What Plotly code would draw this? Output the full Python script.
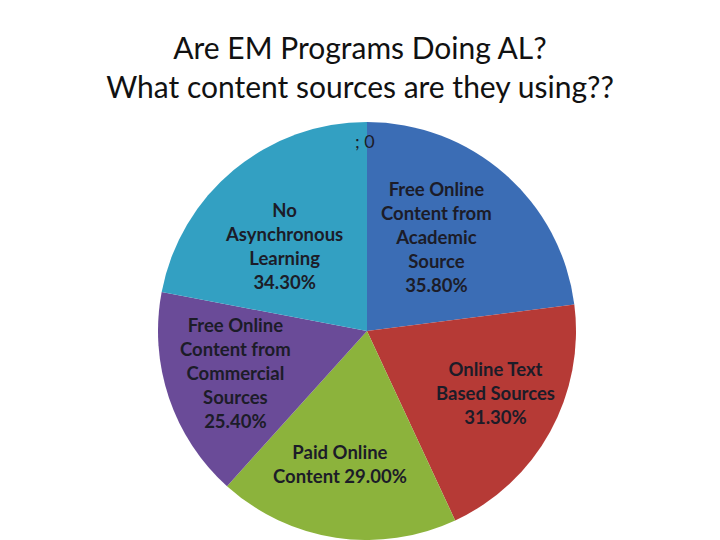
import math
import plotly.graph_objects as go

title_lines = ["Are EM Programs Doing AL?", "What content sources are they using??"]
labels = ["", "Free Online<br>Content from<br>Academic<br>Source", "Online Text<br>Based Sources",
          "Paid Online<br>Content", "Free Online<br>Content from<br>Commercial<br>Sources",
          "No<br>Asynchronous<br>Learning"]
values = [0.0, 35.8, 31.3, 29.0, 25.4, 34.3]
separators = ["; ", "<br>", "<br>", " ", "<br>", "<br>"]
colors = ["#2f86b0", "#3b6db5", "#b63a36", "#8cb33c", "#6a4b98", "#33a0c2"]

# label placement (fraction of radius, angle nudge in degrees) — style only
label_radius = [0.91, 0.56, 0.68, 0.65, 0.66, 0.57]
label_nudge = [-0.5, -4.7, -3.2, 3.1, 0.7, -4.7]

W, H = 712, 532  # page body has an 8px margin
dom_x = [150 / W, 568 / W]
dom_y = [0, 418 / H]

fig = go.Figure(go.Pie(
    labels=labels,
    values=values,
    sort=False,
    direction="clockwise",
    rotation=0,
    marker=dict(colors=colors, line=dict(width=0)),
    textinfo="none",
    domain=dict(x=dom_x, y=dom_y),
    hoverinfo="label+value",
    showlegend=False,
))

# centre/radius of the pie in pixel space derived from its domain
cx = (dom_x[0] + dom_x[1]) / 2 * W
cy = (1 - (dom_y[0] + dom_y[1]) / 2) * H
R = min((dom_x[1] - dom_x[0]) * W, (dom_y[1] - dom_y[0]) * H) / 2
total = sum(values)
cum = 0.0
for lab, v, sep, fr, nd in zip(labels, values, separators, label_radius, label_nudge):
    mid = (cum + v / 2) / total * 2 * math.pi + math.radians(nd)
    cum += v
    px = cx + fr * R * math.sin(mid)
    py = cy - fr * R * math.cos(mid)
    if v > 0:
        txt = f"{lab}{sep}{v:.2f}%"
        fnt = dict(family="Lato", size=18.5, color="#1c1c28", weight="bold")
    else:
        txt = f";&nbsp;{v:.0f}"
        fnt = dict(family="Lato", size=18, color="#1c1c28")
    fig.add_annotation(text=txt, x=px / W, y=1 - py / H, xref="paper", yref="paper",
                       xanchor="center", yanchor="middle", showarrow=False, font=fnt)

fig.update_layout(
    width=W, height=H,
    margin=dict(l=0, r=0, t=0, b=0),
    paper_bgcolor="white",
    title=dict(text="<br>".join(title_lines), x=352 / W, xanchor="center",
               y=1 - 51 / H, yanchor="top", yref="container",
               font=dict(family="Lato", size=30, color="#111111")),
)

fig.write_html("out.html")
